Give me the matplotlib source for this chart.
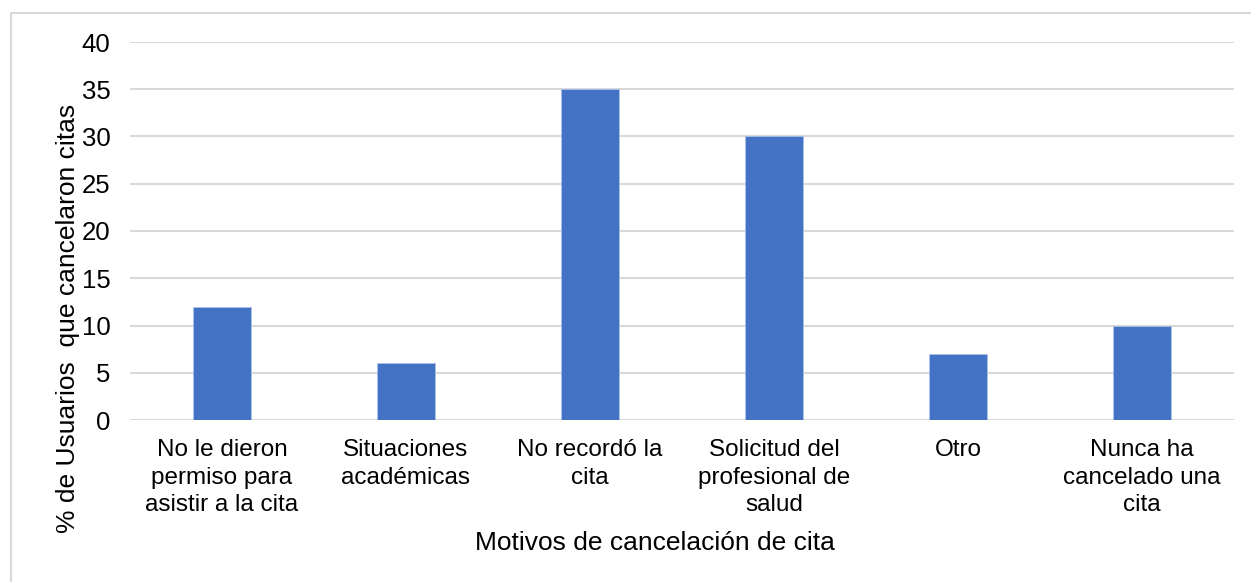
import matplotlib.pyplot as plt
from matplotlib.patches import Rectangle

categorias = ["No le dieron\npermiso para\nasistir a la cita",
              "Situaciones\nacadémicas",
              "No recordó la\ncita",
              "Solicitud del\nprofesional de\nsalud",
              "Otro",
              "Nunca ha\ncancelado una\ncita"]
valores = [12, 6, 35, 30, 7, 10]
yticks = [0, 5, 10, 15, 20, 25, 30, 35, 40]

plt.rcParams['font.family'] = ['Liberation Sans', 'DejaVu Sans']

fig = plt.figure(figsize=(12.51, 5.82), dpi=100)
# marco del grafico
fig.patches.append(Rectangle((11/1251, -0.1), 1.2, 1.1 - 13/582,
                             transform=fig.transFigure, fill=False,
                             edgecolor='#D9D9D9', linewidth=1.5))
ax = fig.add_axes([130/1251, 1 - 420/582, (1234 - 130)/1251, (420 - 42)/582])

x = range(len(categorias))
ax.bar(x, valores, width=0.31, color='#4472C4', edgecolor='#A9C0E8',
       linewidth=0.6, zorder=3)
ax.set_xlim(-0.5, len(categorias) - 0.5)
ax.set_ylim(0, 40)
ax.set_yticks(yticks)
ax.yaxis.grid(True, color='#D9D9D9', linewidth=1.5, zorder=0)
for s in ax.spines.values():
    s.set_visible(False)
ax.set_xticks(list(x))
ax.set_xticklabels(categorias, fontsize=17.5, linespacing=1.3)
ax.tick_params(axis='y', length=0, pad=14, labelsize=18.5)
ax.tick_params(axis='x', length=0, pad=14)

fig.text(68/1251, 1 - 318/582, "% de Usuarios  que cancelaron citas",
         rotation=90, ha='center', va='center', fontsize=19)
fig.text(655/1251, 1 - 543/582, "Motivos de cancelación de cita",
         ha='center', va='center', fontsize=19)

fig.savefig("out.png", dpi=100)
